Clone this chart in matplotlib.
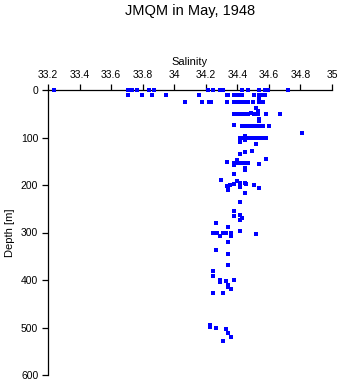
import numpy as np
import matplotlib
matplotlib.use('Agg')
import matplotlib.pyplot as plt
import matplotlib.ticker as tck

plt.rcParams['font.family'] = ['Liberation Sans', 'DejaVu Sans']

# station JMQM, May 1948 -- salinity samples vs depth (m)
depth = [0]*17 + [11]*16 + [19] + [26]*15 + [38, 44, 48] + [50]*10 + [61, 66, 73] + [76]*11 \
    + [91, 97] + [101]*10 + [105, 110, 114, 128, 131, 135, 146, 147, 151] + [153]*6 \
    + [156, 158, 165, 169, 177, 189, 192, 195, 195, 198, 198, 202, 202, 200, 204, 210, 200, 206,
       217, 236, 255, 263, 265, 270, 274, 281, 289, 297, 304] + [300]*5 \
    + [307, 307, 319, 337, 345, 369, 380, 392, 400, 404, 403, 401, 411, 415, 419, 428, 428,
       495, 498, 502, 503, 512, 521, 529]
salinity = [33.236, 33.709, 33.726, 33.734, 33.766, 33.838, 33.870, 34.216, 34.248, 34.290,
            34.311, 34.431, 34.470, 34.539, 34.577, 34.596, 34.719,
            33.709, 33.798, 33.859, 33.950, 34.159, 34.333, 34.343, 34.381, 34.396, 34.411,
            34.428, 34.508, 34.539, 34.552, 34.561, 34.575,
            34.539,
            34.070, 34.178, 34.220, 34.231, 34.333, 34.381, 34.398, 34.411, 34.428, 34.449,
            34.466, 34.501, 34.539, 34.552, 34.565,
            34.518, 34.529, 34.487,
            34.381, 34.396, 34.411, 34.428, 34.449, 34.470, 34.508, 34.529, 34.580, 34.670,
            34.539, 34.539, 34.381,
            34.428, 34.444, 34.459, 34.470, 34.485, 34.495, 34.512, 34.527, 34.544, 34.565, 34.603,
            34.810, 34.449,
            34.417, 34.434, 34.449, 34.459, 34.480, 34.501, 34.518, 34.539, 34.561, 34.580,
            34.449, 34.419, 34.520, 34.491, 34.450, 34.419, 34.580, 34.400, 34.336,
            34.381, 34.400, 34.421, 34.438, 34.453, 34.470,
            34.539, 34.381, 34.450, 34.450, 34.381, 34.298, 34.398, 34.419, 34.450, 34.455, 34.377,
            34.333, 34.341, 34.354, 34.419, 34.339, 34.508, 34.539,
            34.450, 34.419, 34.381, 34.419, 34.381, 34.430, 34.419, 34.267, 34.341, 34.419, 34.520,
            34.248, 34.269, 34.311, 34.326, 34.358,
            34.290, 34.358, 34.341, 34.265, 34.339, 34.339, 34.248, 34.248, 34.290, 34.290, 34.330,
            34.381, 34.339, 34.343, 34.358, 34.248, 34.309,
            34.229, 34.229, 34.267, 34.330, 34.339, 34.358, 34.309]

fig = plt.figure(figsize=(3.41, 3.84), dpi=100)
ax = fig.add_axes([48/341, 1-375/384, 284/341, 285/384])

ax.plot(salinity, depth, 's', color='blue', markersize=2.4, markeredgewidth=0,
        clip_on=False, zorder=3)

ax.set_xlim(33.2, 35)
ax.set_ylim(600, 0)
ax.set_xticks(np.arange(33.2, 35.01, 0.2))
ax.xaxis.set_major_formatter(tck.FormatStrFormatter('%g'))
ax.set_yticks(np.arange(0, 601, 100))
ax.xaxis.tick_top()
ax.xaxis.set_label_position('top')
for s in ['right', 'bottom']:
    ax.spines[s].set_visible(False)
for s in ['left', 'top']:
    ax.spines[s].set_linewidth(0.9)
ax.tick_params(length=4, width=0.9, labelsize=7.5, pad=3)
ax.set_xlabel('Salinity', fontsize=8, labelpad=4)
ax.set_ylabel('Depth [m]', fontsize=8, labelpad=4)

fig.text(190/341, 1-11/384, 'JMQM in May, 1948', ha='center', va='center', fontsize=10.5)

fig.savefig('out.png', dpi=100)
